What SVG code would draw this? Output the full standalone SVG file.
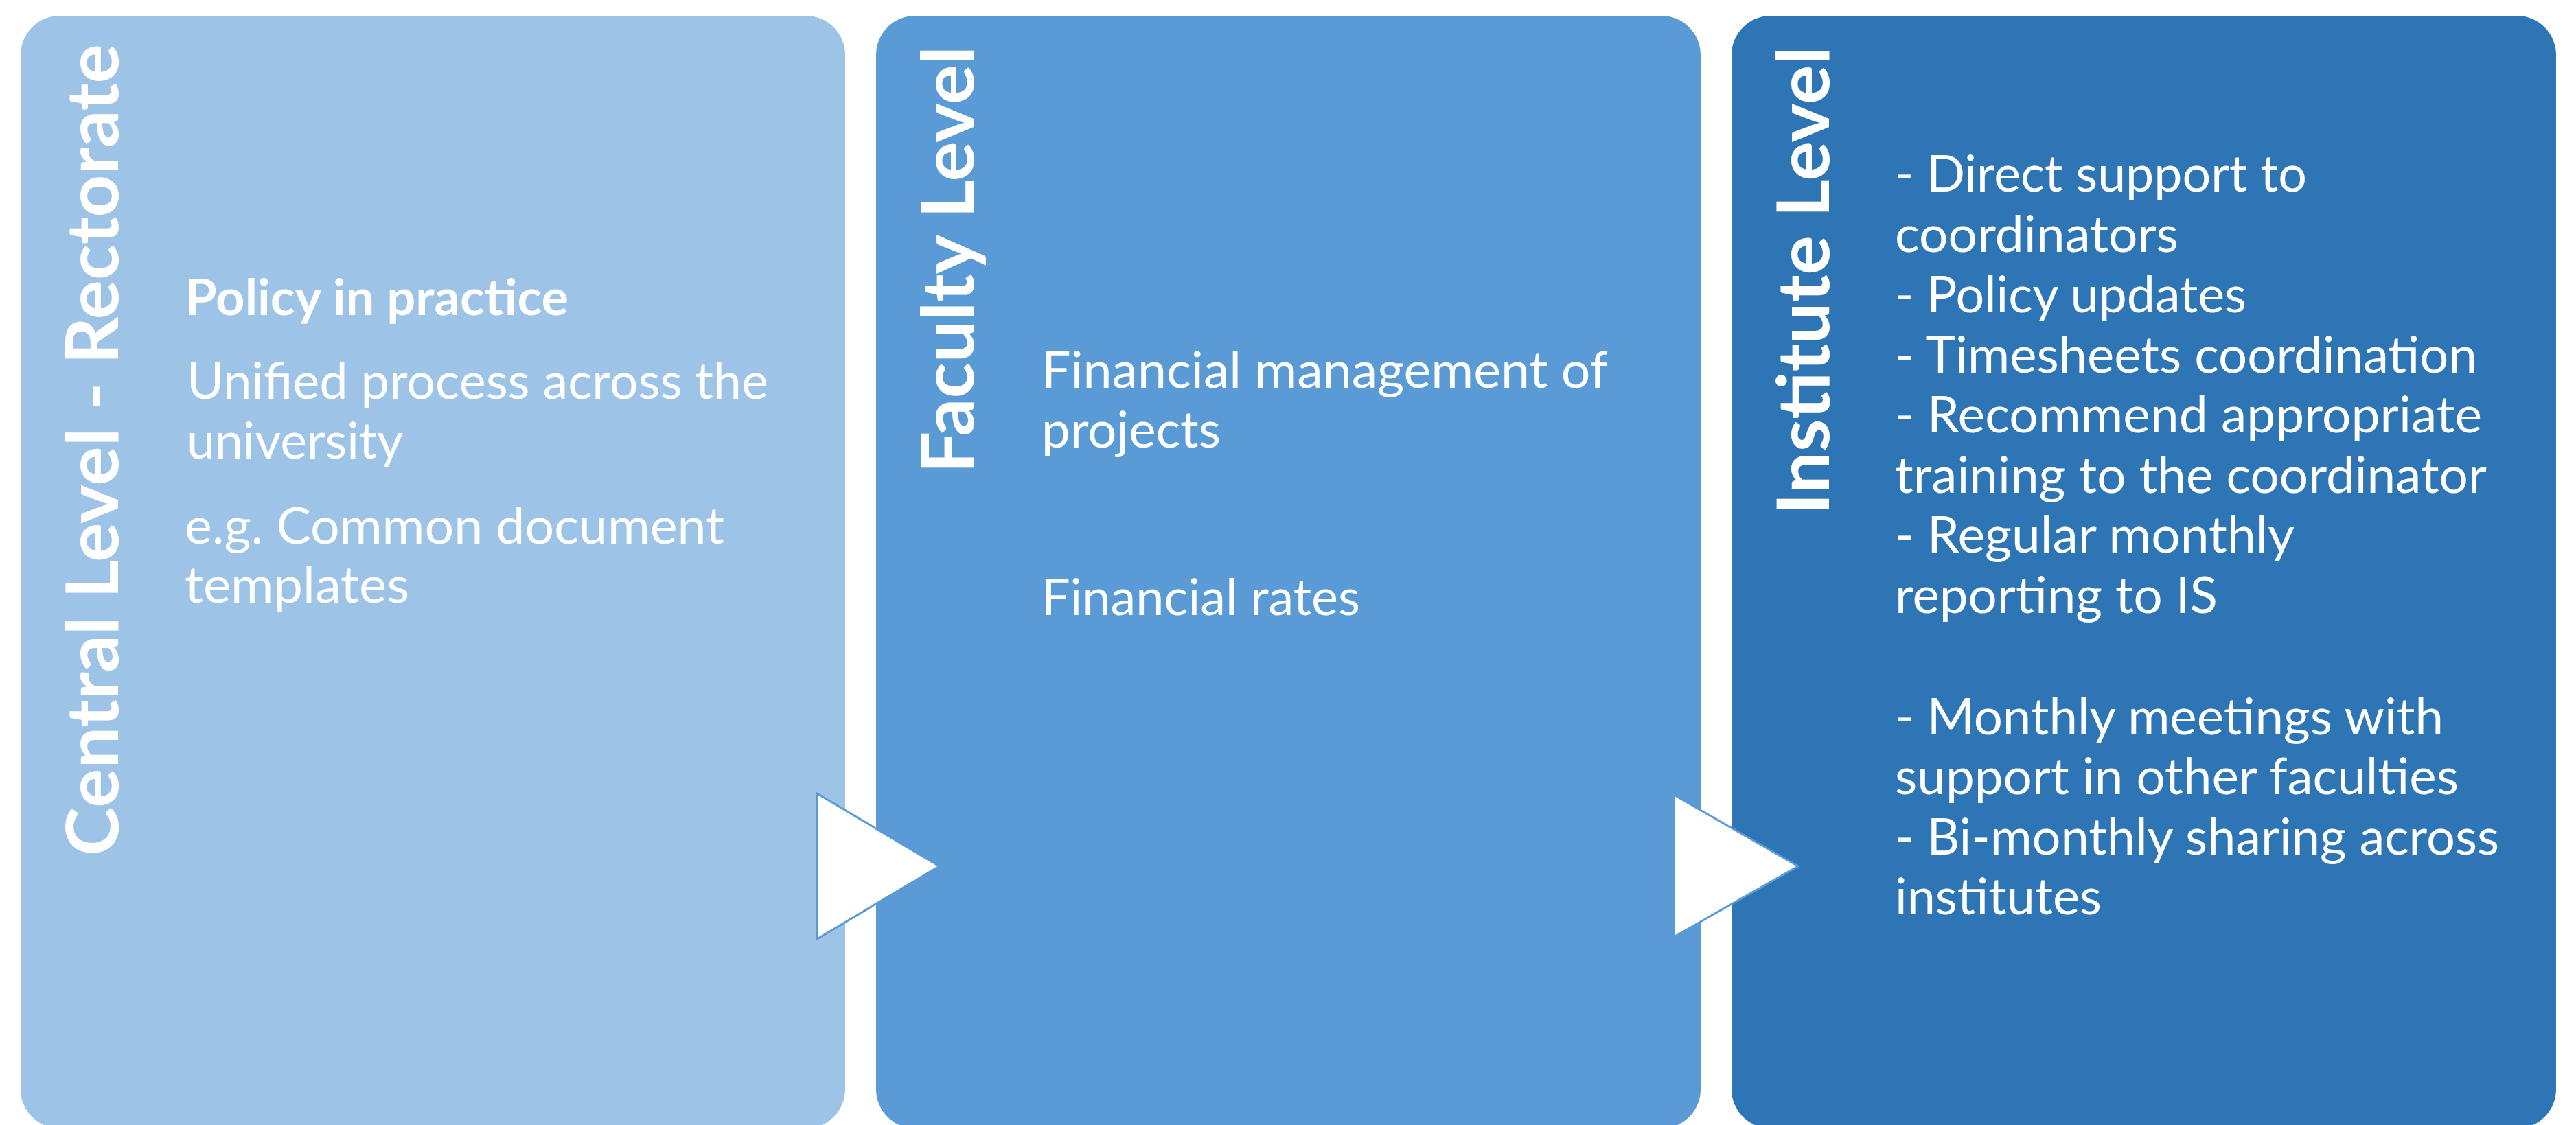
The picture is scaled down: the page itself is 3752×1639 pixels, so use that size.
<svg xmlns="http://www.w3.org/2000/svg" width="3752" height="1639" viewBox="0 0 3752 1639">
<style>
.title{font-family:Lato,"Open Sans","Noto Sans",sans-serif;font-weight:700;font-size:105px;fill:#fff}
.body{font-family:Lato,"Open Sans","Noto Sans",sans-serif;font-size:73px;fill:#fff}
.bold{font-weight:700}
.arrow{fill:#fff;stroke:#5B9BD5;stroke-width:3;stroke-linejoin:miter}
</style>
<rect width="3752" height="1639" fill="#fff"/>
<g id="central">
<rect x="30" y="23" width="1201" height="1621" rx="57" fill="#9DC3E6"/>
<text class="title" transform="translate(172,1247) rotate(-90)" textLength="1183" lengthAdjust="spacingAndGlyphs">Central Level - Rectorate</text>
<text class="body bold" x="270" y="459" textLength="558" lengthAdjust="spacingAndGlyphs">Policy in practice</text>
<text class="body" x="272" y="581" textLength="847" lengthAdjust="spacingAndGlyphs">Unified process across the</text>
<text class="body" x="272" y="668" textLength="315" lengthAdjust="spacingAndGlyphs">university</text>
<text class="body" x="269" y="792" textLength="786" lengthAdjust="spacingAndGlyphs">e.g. Common document</text>
<text class="body" x="269" y="878" textLength="327" lengthAdjust="spacingAndGlyphs">templates</text>
</g>
<g id="faculty">
<rect x="1276" y="23" width="1201" height="1621" rx="57" fill="#5B9BD5"/>
<text class="title" transform="translate(1418,690) rotate(-90)" textLength="623" lengthAdjust="spacingAndGlyphs">Faculty Level</text>
<text class="body" x="1517" y="565" textLength="825" lengthAdjust="spacingAndGlyphs">Financial management of</text>
<text class="body" x="1517" y="652" textLength="261" lengthAdjust="spacingAndGlyphs">projects</text>
<text class="body" x="1517" y="896" textLength="464" lengthAdjust="spacingAndGlyphs">Financial rates</text>
</g>
<g id="institute">
<rect x="2522" y="23" width="1201" height="1621" rx="57" fill="#2E75B6"/>
<text class="title" transform="translate(2664,750) rotate(-90)" textLength="682" lengthAdjust="spacingAndGlyphs">Institute Level</text>
<text class="body" x="2760" y="279" textLength="600" lengthAdjust="spacingAndGlyphs">- Direct support to</text>
<text class="body" x="2760" y="367" textLength="413" lengthAdjust="spacingAndGlyphs">coordinators</text>
<text class="body" x="2760" y="455" textLength="512" lengthAdjust="spacingAndGlyphs">- Policy updates</text>
<text class="body" x="2760" y="543" textLength="848" lengthAdjust="spacingAndGlyphs">- Timesheets coordination</text>
<text class="body" x="2760" y="630" textLength="855" lengthAdjust="spacingAndGlyphs">- Recommend appropriate</text>
<text class="body" x="2760" y="718" textLength="862" lengthAdjust="spacingAndGlyphs">training to the coordinator</text>
<text class="body" x="2760" y="805" textLength="582" lengthAdjust="spacingAndGlyphs">- Regular monthly</text>
<text class="body" x="2760" y="893" textLength="470" lengthAdjust="spacingAndGlyphs">reporting to IS</text>
<text class="body" x="2760" y="1070" textLength="799" lengthAdjust="spacingAndGlyphs">- Monthly meetings with</text>
<text class="body" x="2760" y="1157" textLength="821" lengthAdjust="spacingAndGlyphs">support in other faculties</text>
<text class="body" x="2760" y="1245" textLength="880" lengthAdjust="spacingAndGlyphs">- Bi-monthly sharing across</text>
<text class="body" x="2760" y="1332" textLength="301" lengthAdjust="spacingAndGlyphs">institutes</text>
</g>
<g id="connectors">
<polygon class="arrow" points="1190,1156 1368,1262 1190,1368"/>
<polygon class="arrow" points="2438,1158 2619,1262 2438,1365"/>
</g>
</svg>
